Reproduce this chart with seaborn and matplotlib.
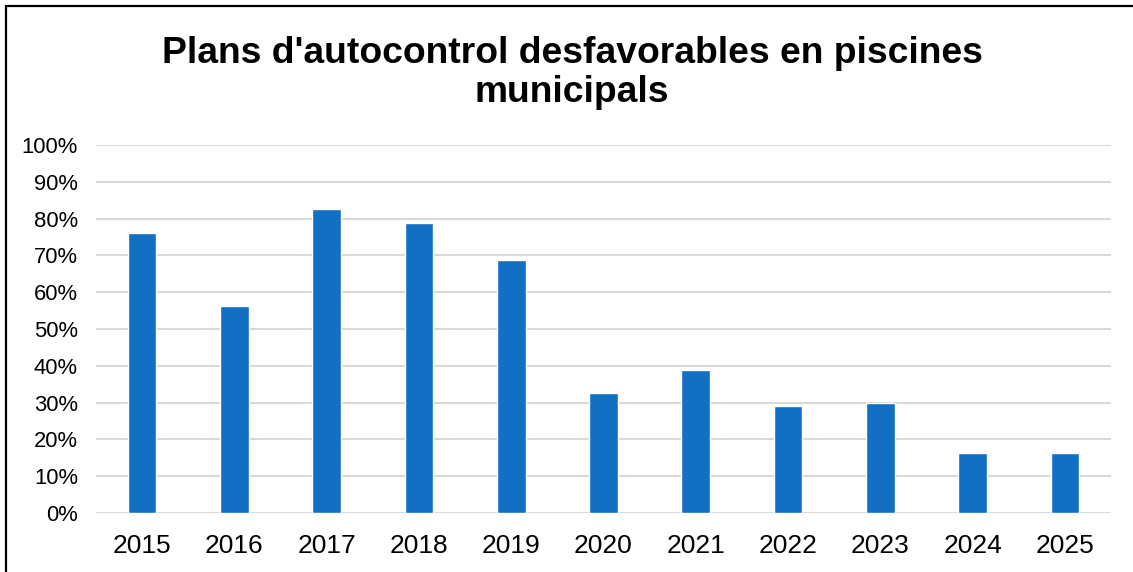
import matplotlib
matplotlib.use("Agg")

import matplotlib.pyplot as plt
import pandas as pd
import seaborn as sns
from matplotlib.patches import Rectangle
from matplotlib.ticker import FuncFormatter

# Data
years = ["2015", "2016", "2017", "2018", "2019", "2020",
         "2021", "2022", "2023", "2024", "2025"]
pct_unfavourable = [76.2, 56.2, 82.5, 78.7, 68.7, 32.5,
                    38.8, 29.1, 30.0, 16.2, 16.2]

title = "Plans d'autocontrol desfavorables en piscines\nmunicipals"


def main():
    sns.set_theme(style="white")
    plt.rcParams["font.family"] = ["Liberation Sans", "DejaVu Sans"]
    plt.rcParams["text.color"] = "black"

    df = pd.DataFrame({"Any": years, "Percentatge": pct_unfavourable})

    fig = plt.figure(figsize=(11.33, 5.72), dpi=100)
    ax = fig.add_axes([0.0847, 0.1031, 0.8959, 0.6434])

    sns.barplot(data=df, x="Any", y="Percentatge", color="#1270c4",
                saturation=1, width=0.31, ax=ax, zorder=3)

    ax.set_ylim(0, 100)
    ax.set_yticks(range(0, 101, 10))
    ax.yaxis.set_major_formatter(FuncFormatter(lambda v, _: f"{v:.0f}%"))
    ax.set_xlim(-0.5, len(years) - 0.5)
    ax.grid(axis="y", color="#d9d9d9", linewidth=1.5, zorder=0)
    ax.set_axisbelow(True)
    for side in ["top", "right", "left", "bottom"]:
        ax.spines[side].set_visible(False)

    ax.set_xlabel("")
    ax.set_ylabel("")
    ax.tick_params(axis="y", labelsize=15.8, length=0, pad=13,
                   labelcolor="#000000")
    ax.tick_params(axis="x", labelsize=19, length=0, pad=15,
                   labelcolor="#000000")

    fig.text(0.505, 0.937, title, ha="center", va="top", fontsize=26.8,
             fontweight="bold", linespacing=1.15, color="black")

    # outer chart frame (cut off at right and bottom in the reference)
    fig.add_artist(Rectangle((6 / 1133, -0.2), 1.5, 1.2 - 6 / 572,
                             transform=fig.transFigure, fill=False,
                             edgecolor="black", linewidth=1.6))

    fig.savefig("out.png", dpi=100)


if __name__ == "__main__":
    main()
